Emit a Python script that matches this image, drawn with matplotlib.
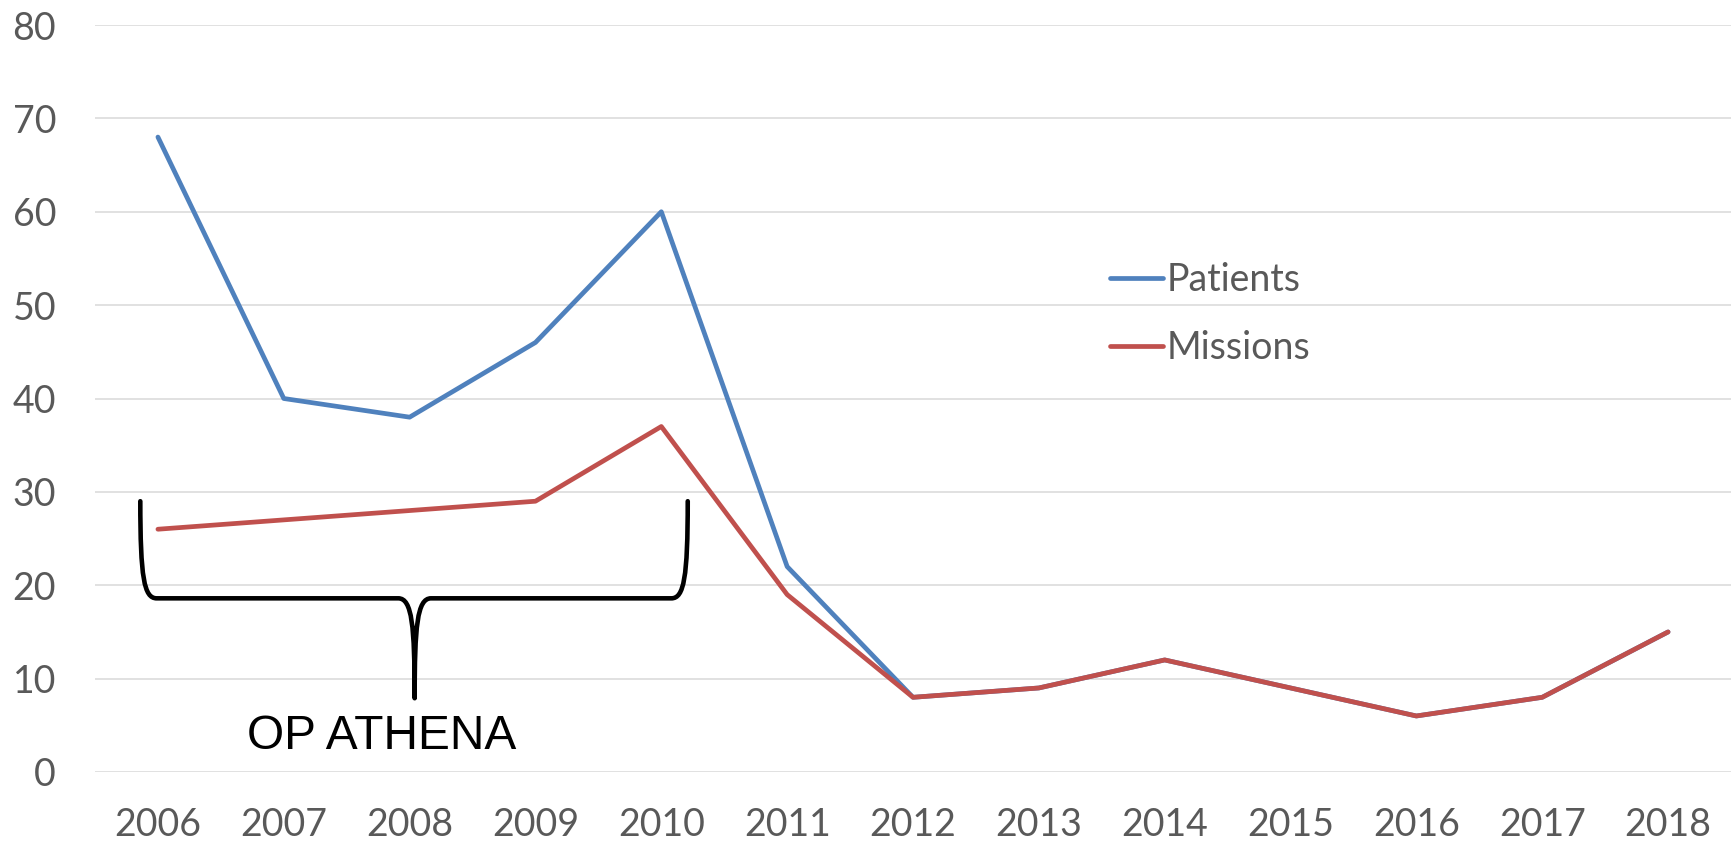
import matplotlib
matplotlib.use("Agg")
import matplotlib.pyplot as plt
from matplotlib.path import Path
from matplotlib.patches import PathPatch

years = [2006, 2007, 2008, 2009, 2010, 2011, 2012, 2013, 2014, 2015, 2016, 2017, 2018]
patients = [68, 40, 38, 46, 60, 22, 8, 9, 12, 9, 6, 8, 15]
missions = [26, 27, 28, 29, 37, 19, 8, 9, 12, 9, 6, 8, 15]
y_ticks = [0, 10, 20, 30, 40, 50, 60, 70, 80]

# brace around the OP ATHENA years
brace_left, brace_mid, brace_right = 2005.86, 2008.04, 2010.21
brace_top, brace_bar, brace_tip = 29.0, 18.6, 7.9
brace_label = "OP ATHENA"

grey = "#595959"
blue = "#4F81BD"
red = "#C0504D"

fig = plt.figure(figsize=(17.35, 8.43), dpi=100)
ax = fig.add_axes([95 / 1735, 1 - 772 / 843, (1731 - 95) / 1735, (772 - 25) / 843])

ax.plot(years, patients, color=blue, lw=3.4, solid_capstyle="round",
        solid_joinstyle="round", label="Patients", zorder=3)
ax.plot(years, missions, color=red, lw=3.4, solid_capstyle="round",
        solid_joinstyle="round", label="Missions", zorder=4)

ax.set_xlim(2005.5, 2018.5)
ax.set_ylim(0, 80)
ax.set_xticks(years)
ax.set_yticks(y_ticks)
ax.grid(axis="y", color="#D9D9D9", lw=1.1)
ax.set_axisbelow(True)
for s in ax.spines.values():
    s.set_visible(False)
ax.tick_params(axis="both", length=0, labelsize=27, labelcolor=grey)
ax.tick_params(axis="y", pad=28)
ax.tick_params(axis="x", pad=25)
for lab in ax.get_xticklabels() + ax.get_yticklabels():
    lab.set_fontfamily("Lato")

# the curly brace
c = 0.13
verts = [
    (brace_left, brace_top),
    (brace_left, brace_bar + 2.2), (brace_left + 0.03, brace_bar), (brace_left + c, brace_bar),
    (brace_mid - c, brace_bar),
    (brace_mid - 0.02, brace_bar), (brace_mid, brace_bar - 3), (brace_mid, brace_tip),
    (brace_mid, brace_bar - 3), (brace_mid + 0.02, brace_bar), (brace_mid + c, brace_bar),
    (brace_right - c, brace_bar),
    (brace_right - 0.03, brace_bar), (brace_right, brace_bar + 2.2), (brace_right, brace_top),
]
codes = [Path.MOVETO,
         Path.CURVE4, Path.CURVE4, Path.CURVE4,
         Path.LINETO,
         Path.CURVE4, Path.CURVE4, Path.CURVE4,
         Path.CURVE4, Path.CURVE4, Path.CURVE4,
         Path.LINETO,
         Path.CURVE4, Path.CURVE4, Path.CURVE4]
ax.add_patch(PathPatch(Path(verts, codes), fill=False, lw=3.3, color="black",
                       capstyle="round", joinstyle="round", zorder=5))
ax.text(2007.78, 3.8, brace_label, fontsize=34.5, family="Liberation Sans",
        color="black", ha="center", va="center")

leg = ax.legend(loc="center left", bbox_to_anchor=(1110 / 1735, 1 - 314 / 843),
                bbox_transform=fig.transFigure, frameon=False, borderpad=0,
                borderaxespad=0, handlelength=1.4, handletextpad=0.1,
                labelspacing=0.87, prop={"family": "Lato", "size": 27})
for t in leg.get_texts():
    t.set_color(grey)

fig.savefig("out.png", dpi=100)
